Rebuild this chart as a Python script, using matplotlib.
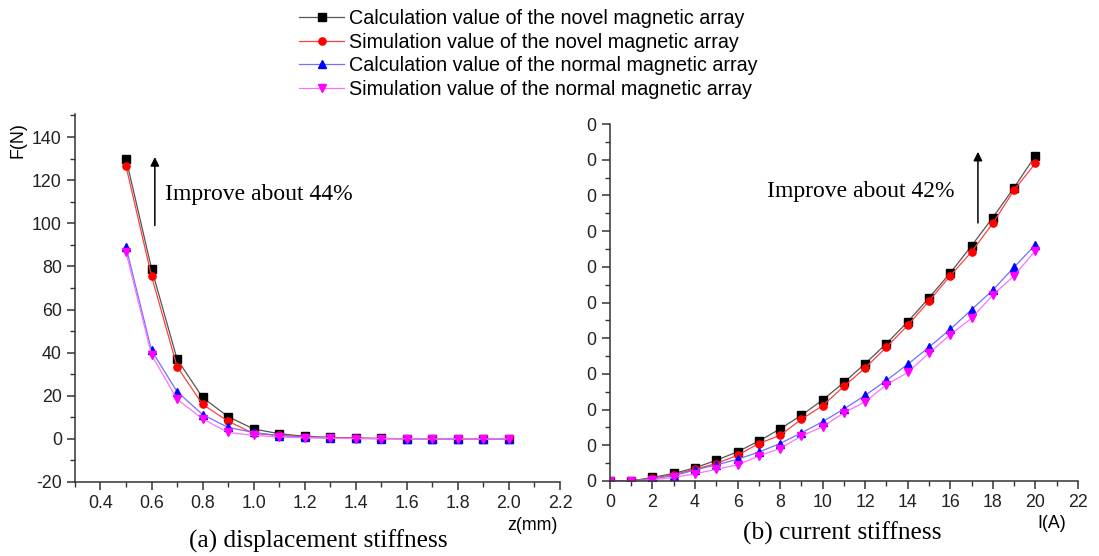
import matplotlib
matplotlib.use("Agg")
import matplotlib.pyplot as plt
from matplotlib.ticker import MultipleLocator, FixedLocator, FixedFormatter

# ---- data: (a) displacement stiffness ----
z_mm = [0.5, 0.6, 0.7, 0.8, 0.9, 1.0, 1.1, 1.2, 1.3, 1.4, 1.5, 1.6, 1.7, 1.8, 1.9, 2.0]
calc_novel_z = [130.0, 79.0, 37.0, 19.2, 10.3, 4.6, 2.4, 1.2, 0.7, 0.4, 0.2, 0.1, 0.05, 0.0, 0.0, 0.0]
sim_novel_z = [126.5, 75.5, 33.5, 16.0, 8.2, 2.5, 1.6, 0.9, 0.5, 0.3, 0.15, 0.1, 0.05, 0.0, 0.0, 0.0]
calc_normal_z = [89.0, 41.0, 21.9, 11.3, 5.3, 3.0, 1.5, 0.8, 0.4, 0.2, 0.1, 0.05, 0.0, 0.0, 0.0, 0.0]
sim_normal_z = [86.5, 39.0, 18.4, 9.3, 3.0, 1.6, 0.9, 0.5, 0.3, 0.15, 0.1, 0.05, 0.0, 0.0, 0.0, 0.0]

# ---- data: (b) current stiffness ----
current_A = list(range(0, 21))
calc_novel_i = [0.0, 0.0, 1.0, 2.1, 3.7, 5.8, 8.2, 11.2, 14.6, 18.4, 22.7, 27.6, 32.9, 38.5, 44.6,
                51.3, 58.3, 65.9, 73.8, 82.2, 91.1]
sim_novel_i = [0.0, 0.0, 0.8, 1.8, 3.3, 4.9, 7.2, 10.5, 12.8, 17.3, 21.1, 26.5, 31.7, 37.5, 43.6,
               50.4, 57.5, 64.2, 72.2, 81.5, 89.0]
calc_normal_i = [0.0, 0.0, 0.6, 1.5, 3.1, 4.5, 6.1, 8.1, 10.5, 13.5, 16.6, 20.2, 24.0, 28.2, 32.7,
                 37.5, 42.5, 48.0, 53.5, 59.9, 66.2]
sim_normal_i = [0.0, 0.0, 0.3, 1.0, 2.0, 3.3, 4.5, 7.0, 9.1, 12.6, 15.2, 19.1, 22.2, 27.0, 30.4,
                35.8, 41.0, 45.6, 52.1, 57.5, 64.5]

legend_labels = ["Calculation value of the novel magnetic array",
                 "Simulation value of the novel magnetic array",
                 "Calculation value of the normal magnetic array",
                 "Simulation value of the normal magnetic array"]
right_ytick_labels = ["0"] * 11

plt.rcParams['font.family'] = ['Liberation Sans', 'DejaVu Sans']
plt.rcParams['axes.unicode_minus'] = False
TICK_FS = 12.8
SERIF = ['Liberation Serif', 'DejaVu Serif']

styles = [
    dict(color="#000000", line="#555555", marker="s"),
    dict(color="#ff0000", line="#ff4040", marker="o"),
    dict(color="#0000ff", line="#7070ff", marker="^"),
    dict(color="#ff00ff", line="#ff70ff", marker="v"),
]

fig = plt.figure(figsize=(10.99, 5.56), dpi=100)
ax1 = fig.add_axes([0.0682, 0.1331, 0.4413, 0.6619])
ax2 = fig.add_axes([0.555, 0.1349, 0.4258, 0.642])


def plot_series(ax, x, ys):
    handles = []
    for y, st, lab in zip(ys, styles, legend_labels):
        h, = ax.plot(x, y, color=st["line"], lw=0.9, marker=st["marker"], ms=5.2,
                     mfc=st["color"], mec=st["color"], label=lab)
        handles.append(h)
    return handles


def style_axes(ax):
    for s in ("top", "right"):
        ax.spines[s].set_visible(False)
    for s in ("left", "bottom"):
        ax.spines[s].set_linewidth(1.1)
        ax.spines[s].set_color("#333333")
    ax.tick_params(which="major", direction="out", length=6, width=1.1, labelsize=TICK_FS,
                   colors="#333333", labelcolor="#222222")
    ax.tick_params(which="minor", direction="out", length=3.5, width=1.0, colors="#333333")


handles = plot_series(ax1, z_mm, [calc_novel_z, sim_novel_z, calc_normal_z, sim_normal_z])
ax1.set_xlim(0.3, 2.2)
ax1.set_ylim(-20, 150.7)
ax1.xaxis.set_major_locator(FixedLocator([0.4, 0.6, 0.8, 1.0, 1.2, 1.4, 1.6, 1.8, 2.0, 2.2]))
ax1.xaxis.set_minor_locator(MultipleLocator(0.1))
ax1.yaxis.set_major_locator(FixedLocator([-20, 0, 20, 40, 60, 80, 100, 120, 140]))
ax1.yaxis.set_minor_locator(MultipleLocator(10))
style_axes(ax1)
ax1.text(-0.118, 0.93, "F(N)", transform=ax1.transAxes, rotation=90, fontsize=TICK_FS,
         ha="center", va="center")
ax1.text(0.995, -0.118, "z(mm)", transform=ax1.transAxes, fontsize=TICK_FS, ha="right", va="center")
ax1.annotate("", xy=(0.613, 132), xytext=(0.613, 97.7),
             arrowprops=dict(arrowstyle="-|>", color="black", lw=1.1, mutation_scale=13))
ax1.text(0.652, 113.5, "Improve about 44%", fontsize=17, family=SERIF, va="center", ha="left")

plot_series(ax2, current_A, [calc_novel_i, sim_novel_i, calc_normal_i, sim_normal_i])
ax2.set_xlim(0, 22)
ax2.set_ylim(0, 100)
ax2.xaxis.set_major_locator(MultipleLocator(2))
ax2.xaxis.set_minor_locator(MultipleLocator(1))
ax2.yaxis.set_major_locator(FixedLocator([0, 10, 20, 30, 40, 50, 60, 70, 80, 90, 100]))
ax2.yaxis.set_major_formatter(FixedFormatter(right_ytick_labels))
ax2.yaxis.set_minor_locator(MultipleLocator(5))
style_axes(ax2)
ax2.tick_params(axis="y", which="major", pad=4)
ax2.text(0.975, -0.118, "I(A)", transform=ax2.transAxes, fontsize=TICK_FS, ha="right", va="center")
ax2.annotate("", xy=(17.3, 93), xytext=(17.3, 71.5),
             arrowprops=dict(arrowstyle="-|>", color="black", lw=1.1, mutation_scale=13))
ax2.text(7.38, 81, "Improve about 42%", fontsize=17, family=SERIF, va="center", ha="left")

fig.text(318 / 1099, 1 - 541 / 556, "(a) displacement stiffness", fontsize=18.3, family=SERIF,
         ha="center", va="center")
fig.text(842 / 1099, 1 - 533 / 556, "(b) current stiffness", fontsize=18.3, family=SERIF,
         ha="center", va="center")

fig.legend(handles=handles, loc="upper left", bbox_to_anchor=(290 / 1099, 1.0), frameon=False,
           fontsize=14.2, handlelength=2.3, handletextpad=0.25, labelspacing=0.24,
           borderaxespad=0.2, borderpad=0.25)

fig.savefig("out.png", dpi=100)
